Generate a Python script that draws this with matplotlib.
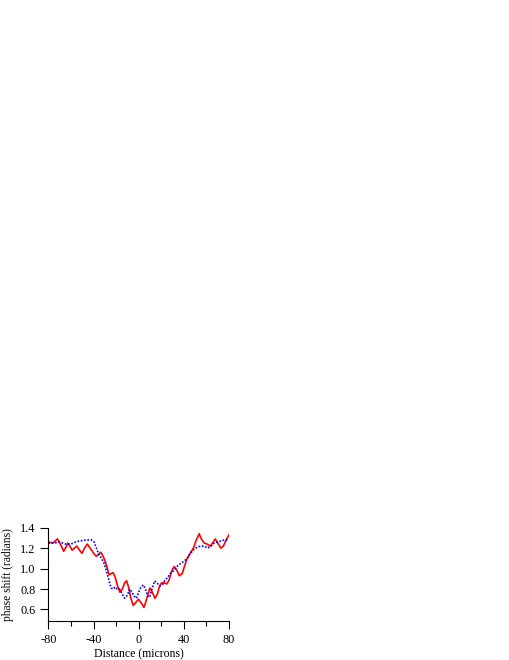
import matplotlib
matplotlib.use('Agg')
from matplotlib import pyplot as plt
from matplotlib.ticker import MultipleLocator

# red solid trace (distance in microns, phase shift in radians)
red_x = [-80, -76, -72, -69, -66.5, -64.5, -62.8, -61, -59, -57, -54.8, -52.5,
         -50.3, -48, -45.6, -43, -40, -37.6, -35.5, -33.7, -32, -30, -28, -26.3,
         -24.5, -22.7, -21, -19, -16.8, -14.5, -12.5, -10.8, -9, -7, -4.9, -2.5,
         -0.2, 2.5, 4.6, 7, 9.9, 12, 14.4, 16.5, 18.5, 20.3, 22.5, 24.8, 27, 29,
         31.3, 33.5, 36, 38.5, 40.5, 42.6, 45, 48.5, 51, 53.6, 55.5, 58, 60.5,
         63.4, 65.5, 67.8, 70, 72.9, 75, 77.5, 80]
red_y = [1.26, 1.25, 1.29, 1.23, 1.17, 1.21, 1.25, 1.22, 1.18, 1.20, 1.22, 1.18,
         1.15, 1.20, 1.24, 1.20, 1.15, 1.12, 1.14, 1.16, 1.13, 1.08, 1.01, 0.94,
         0.95, 0.96, 0.92, 0.84, 0.77, 0.80, 0.86, 0.88, 0.82, 0.71, 0.64, 0.67,
         0.70, 0.66, 0.62, 0.70, 0.81, 0.77, 0.71, 0.75, 0.83, 0.86, 0.86, 0.85, 0.89, 0.97,
         1.02, 0.99, 0.93, 0.95, 1.02, 1.09, 1.14, 1.20, 1.28, 1.34, 1.29, 1.25, 1.24,
         1.22, 1.25, 1.29, 1.25, 1.20, 1.22, 1.28, 1.33]

# blue dotted trace
blue_x = [-80, -75, -70, -65, -60, -56, -52, -47, -42, -39.5, -37.5, -35.5, -33,
          -31, -29, -27, -24.5, -22.5, -21, -19, -17, -15, -12.5, -10, -8, -6,
          -4, -2, 0, 2, 4, 6, 8.3, 10, 12, 14.2, 17, 19, 21, 23, 26, 28, 31, 34,
          37, 40, 43, 46, 49, 52, 55, 58, 61, 64, 67, 70, 73, 76, 80]
blue_y = [1.25, 1.25, 1.26, 1.24, 1.24, 1.26, 1.27, 1.28, 1.28, 1.26, 1.20, 1.14,
          1.10, 1.06, 0.99, 0.91, 0.81, 0.80, 0.82, 0.80, 0.80, 0.76, 0.71, 0.74, 0.80, 0.77,
          0.73, 0.71, 0.77, 0.82, 0.84, 0.80, 0.72, 0.73, 0.81, 0.88, 0.85, 0.83, 0.84, 0.88,
          0.92, 0.95, 0.98, 1.02, 1.05, 1.07, 1.10, 1.15, 1.19, 1.21, 1.22, 1.22, 1.20,
          1.22, 1.25, 1.26, 1.27, 1.28, 1.28]

xticks = [-80, -40, 0, 40, 80]
yticks = [0.6, 0.8, 1.0, 1.2, 1.4]

plt.rcParams['font.family'] = ['Liberation Serif', 'DejaVu Serif']

fig = plt.figure(figsize=(5.1, 6.6), dpi=100)
ax = fig.add_axes([0.095, 0.0595, 0.354, 0.141])

ax.plot(red_x, red_y, color='#ff0000', lw=1.2)
ax.plot(blue_x, blue_y, color='#0000ff', lw=1.2, ls=(0, (1, 1)))

ax.set_xlim(-80, 80)
ax.set_ylim(0.49, 1.4)
ax.set_xticks(xticks)
ax.set_xticklabels([str(v) for v in xticks])
ax.xaxis.set_minor_locator(MultipleLocator(20))
ax.set_yticks(yticks)
ax.set_yticklabels(['%.1f' % v for v in yticks])

ax.spines['top'].set_visible(False)
ax.spines['right'].set_visible(False)
ax.spines['left'].set_linewidth(0.8)
ax.spines['bottom'].set_linewidth(0.8)
ax.tick_params(which='major', direction='out', length=5.5, width=0.8,
               pad=4, labelsize=8.8)
ax.tick_params(which='minor', direction='out', length=3.3, width=0.8)

ax.set_xlabel('Distance (microns)', fontsize=8.5, labelpad=2)
ax.set_ylabel('phase shift (radians)', fontsize=8.3, labelpad=4)

fig.savefig('out.png', dpi=100)
